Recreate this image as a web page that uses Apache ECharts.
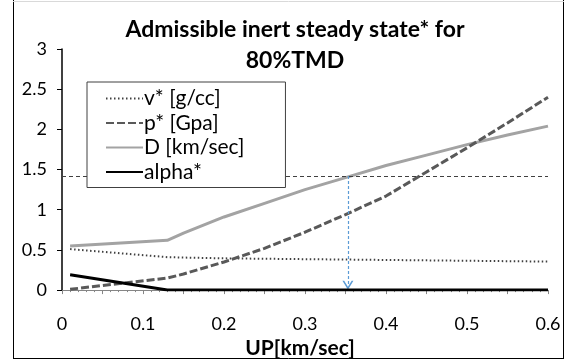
<!DOCTYPE html>
<html>
<head>
<meta charset="utf-8">
<script src="https://cdn.jsdelivr.net/npm/echarts@6/dist/echarts.min.js"></script>
<style>
  html, body { margin: 0; padding: 0; background: #fff; }
  #chart { width: 565px; height: 364px; }
</style>
</head>
<body>
<div id="chart"></div>
<script>
// UP [km/sec]
const up = [0.01, 0.13, 0.15, 0.2, 0.25, 0.3, 0.35, 0.4, 0.45, 0.5, 0.55, 0.6];
const vStar = [0.51, 0.41, 0.405, 0.395, 0.39, 0.385, 0.38, 0.375, 0.37, 0.365, 0.36, 0.355];
const pStar = [0.01, 0.15, 0.2, 0.35, 0.52, 0.72, 0.94, 1.17, 1.47, 1.77, 2.08, 2.4];
const dVel = [0.55, 0.62, 0.71, 0.91, 1.08, 1.25, 1.4, 1.55, 1.68, 1.81, 1.93, 2.04];
const alpha = [0.19, 0, 0, 0, 0, 0, 0, 0, 0, 0, 0, 0];
const legendNames = ["v* [g/cc]", "p* [Gpa]", "D [km/sec]", "alpha*"];
// admissible point marked on the chart
const markUp = 0.353;
const markLevel = 1.42;
const markBottom = 0.06;

const font = "Lato, 'Liberation Sans', sans-serif";

function pairs(ys) {
  return up.map((x, i) => [x, ys[i]]);
}

var chart = echarts.init(document.getElementById("chart"));
var option = {
  animation: false,
  backgroundColor: "#fff",
  title: {
    text: "Admissible inert steady state* for\n80%TMD",
    left: 290,
    textAlign: "center",
    top: 9,
    textStyle: {
      fontFamily: font,
      fontSize: 23,
      fontWeight: "bold",
      color: "#000",
      lineHeight: 31
    }
  },
  grid: {
    left: 62,
    right: 17,
    top: 49,
    bottom: 69
  },
  legend: {
    orient: "vertical",
    left: 87,
    top: 82,
    padding: [6, 41, 5, 18],
    itemGap: 3.5,
    itemWidth: 37,
    itemHeight: 14,
    backgroundColor: "#fff",
    borderColor: "#404040",
    borderWidth: 1,
    borderRadius: 0,
    z: 10,
    itemStyle: { opacity: 0 },
    textStyle: {
      fontFamily: font,
      fontSize: 21,
      lineHeight: 20,
      color: "#000",
      padding: [0, 0, 0, -4]
    },
    data: legendNames
  },
  xAxis: {
    type: "value",
    min: 0,
    max: 0.6,
    interval: 0.05,
    name: "UP[km/sec]",
    nameLocation: "middle",
    nameGap: 39,
    nameTextStyle: {
      fontFamily: font,
      fontSize: 21,
      fontWeight: "bold",
      color: "#000",
      padding: [0, 10, 0, 0]
    },
    axisLine: { lineStyle: { color: "#868686", width: 1 } },
    axisTick: { length: 4, lineStyle: { color: "#868686" } },
    minorTick: { show: true, splitNumber: 5, length: 2, lineStyle: { color: "#868686" } },
    splitLine: { show: false },
    axisLabel: {
      margin: 25,
      fontFamily: font,
      fontSize: 18,
      color: "#000",
      formatter: function(v) {
        return Math.round(v * 100) % 10 === 0 ? String(+v.toFixed(1)) : "";
      }
    }
  },
  yAxis: {
    type: "value",
    min: 0,
    max: 3,
    interval: 0.5,
    axisLine: { show: true, lineStyle: { color: "#000", width: 1.5 } },
    axisTick: { show: true, length: 5, lineStyle: { color: "#000" } },
    splitLine: { show: false },
    axisLabel: {
      margin: 15,
      fontFamily: font,
      fontSize: 18,
      color: "#000"
    }
  },
  series: [
    {
      name: legendNames[0],
      type: "line",
      symbol: "none",
      data: pairs(vStar),
      lineStyle: { color: "#404040", width: 2, type: [1.5, 2.5] },
      itemStyle: { color: "#404040" },
      z: 3
    },
    {
      name: legendNames[1],
      type: "line",
      symbol: "none",
      data: pairs(pStar),
      lineStyle: { color: "#595959", width: 3, type: [8, 3] },
      itemStyle: { color: "#595959" },
      z: 4
    },
    {
      name: legendNames[2],
      type: "line",
      symbol: "none",
      data: pairs(dVel),
      lineStyle: { color: "#a3a3a3", width: 3 },
      itemStyle: { color: "#a3a3a3" },
      z: 3,
      markLine: {
        silent: true,
        symbol: "none",
        label: { show: false },
        lineStyle: { color: "#404040", width: 1, type: [4, 3] },
        data: [{ yAxis: markLevel }]
      }
    },
    {
      name: legendNames[3],
      type: "line",
      symbol: "none",
      data: pairs(alpha),
      lineStyle: { color: "#000", width: 3 },
      itemStyle: { color: "#000" },
      z: 5,
      markLine: {
        silent: true,
        symbol: ["none", "path://M0,10 L5,0 L10,10 L8.4,10 L5,3.4 L1.6,10 Z"],
        symbolSize: [11, 9],
        label: { show: false },
        lineStyle: { color: "#5b9bd5", width: 1.2, type: [3, 2] },
        data: [[
          { coord: [markUp, markLevel] },
          { coord: [markUp, markBottom] }
        ]]
      }
    }
  ],
  graphic: [
    { type: "line", shape: { x1: 13.5, y1: 0, x2: 13.5, y2: 358.5 }, style: { stroke: "#000", lineWidth: 1 } },
    { type: "line", shape: { x1: 13, y1: 358.5, x2: 564, y2: 358.5 }, style: { stroke: "#000", lineWidth: 1 } },
    { type: "line", shape: { x1: 563.5, y1: 0, x2: 563.5, y2: 358.5 }, style: { stroke: "#000", lineWidth: 1 } },
    { type: "line", shape: { x1: 13, y1: 1.5, x2: 564, y2: 1.5 }, style: { stroke: "#d9d9d9", lineWidth: 1 } }
  ]
};
chart.setOption(option);
</script>
</body>
</html>
